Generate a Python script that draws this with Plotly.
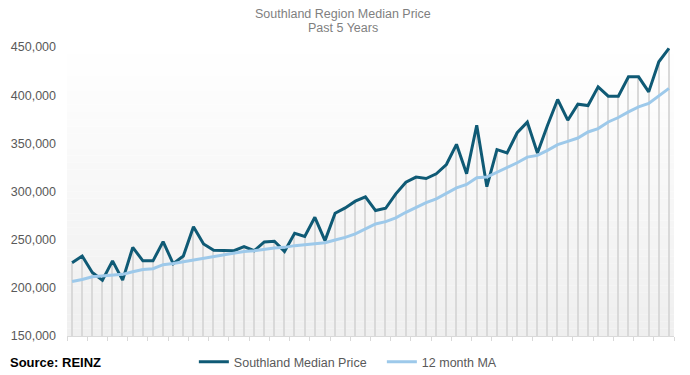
import plotly.graph_objects as go

months = [f"{m}-{y}" for y in ["19", "20", "21", "22", "23", "24"]
          for m in ["Jan", "Feb", "Mar", "Apr", "May", "Jun", "Jul", "Aug", "Sep", "Oct", "Nov", "Dec"]][6:66]

median_price = [
    226000, 233000, 216000, 208000, 228000, 208000, 242000, 228000, 228000, 248000,
    225000, 233000, 263500, 245500, 239000, 238500, 238500, 242700, 238500, 247600,
    248300, 237800, 256600, 253400, 273200, 249000, 277400, 283000, 290000, 294500,
    280200, 282600, 297600, 309700, 315000, 313500, 318400, 328000, 349000, 318400,
    368750, 305000, 343400, 340000, 361000, 372000, 340000, 368750, 395500, 374000,
    390600, 389200, 408600, 399000, 399000, 419000, 419000, 403400, 434700, 448600,
]

ma_12 = [
    206600, 208600, 211500, 212500, 213500, 214000, 216700, 219000, 219800, 224000,
    225300, 227000, 229500, 230500, 232300, 234400, 235700, 237800, 238500, 240000,
    241300, 242000, 243800, 244800, 246000, 246900, 249700, 252400, 256000, 261500,
    266300, 268750, 272600, 278400, 283700, 288500, 292400, 298200, 303800, 307300,
    314300, 315000, 320000, 324700, 329800, 335700, 337500, 342700, 348600, 352000,
    355500, 361800, 365300, 372200, 376800, 382600, 387800, 391400, 399000, 407000,
]

y_ticks = [150000, 200000, 250000, 300000, 350000, 400000, 450000]

fig = go.Figure()

# drop lines under the median series
fig.add_trace(go.Bar(
    x=months, y=median_price, width=0.14,
    marker=dict(color="#d9d9d9", line=dict(width=0)),
    showlegend=False, hoverinfo="skip",
))

fig.add_trace(go.Scatter(
    x=months, y=median_price, mode="lines", name="Southland Median Price",
    line=dict(color="#0f5a75", width=3),
))
fig.add_trace(go.Scatter(
    x=months, y=ma_12, mode="lines", name="12 month MA",
    line=dict(color="#9dc9ea", width=3),
))

# vertical gradient background of plot area
n = 40
shapes = []
for k in range(n):
    t = (k + 0.5) / n
    g = int(round(255 - (255 - 239) * (1 - t)))
    shapes.append(dict(
        type="rect", xref="paper", yref="paper",
        x0=0, x1=1, y0=k / n, y1=(k + 1) / n,
        fillcolor=f"rgb({g},{g},{g})", line=dict(width=0), layer="below",
    ))

title_font = dict(family="Liberation Sans, Arial", size=12.5, color="#7f7f7f")

fig.update_layout(
    width=682, height=367,
    margin=dict(l=59, r=16, t=39, b=39, autoexpand=False),
    paper_bgcolor="white", plot_bgcolor="rgba(0,0,0,0)",
    shapes=shapes,
    showlegend=True,
    legend=dict(
        orientation="h", x=0.209, xanchor="left",
        yref="container", y=0.0354, yanchor="middle",
        font=dict(family="Liberation Sans, Arial", size=12.5, color="#595959"),
        itemwidth=30, entrywidth=143, bgcolor="rgba(0,0,0,0)",
    ),
    bargap=0,
    annotations=[
        dict(text="Southland Region Median Price", xref="paper", yref="paper",
             x=0.455, xanchor="center", y=1.1142, yanchor="middle", showarrow=False,
             font=title_font),
        dict(text="Past 5 Years", xref="paper", yref="paper",
             x=0.455, xanchor="center", y=1.0657, yanchor="middle", showarrow=False,
             font=title_font),
        dict(text="<b>Source: REINZ</b>", xref="paper", yref="paper",
             x=-0.0972, xanchor="left", y=-0.09, yanchor="middle", showarrow=False,
             font=dict(family="Liberation Sans, Arial", size=13, color="#000000")),
    ],
)

fig.update_xaxes(
    type="category", range=[-0.5, len(months) - 0.5], automargin=False,
    showticklabels=False, showgrid=False, zeroline=False,
    showline=True, linecolor="#d9d9d9", linewidth=1,
    ticks="outside", tickson="boundaries", ticklen=4, tickcolor="#d9d9d9",
)
fig.update_yaxes(
    range=[150000, 450000], tickvals=y_ticks, tickformat=",d", automargin=False,
    showgrid=False, zeroline=False, showline=False,
    ticks="", ticklabelstandoff=10,
    tickfont=dict(family="Liberation Sans, Arial", size=12.5, color="#595959"),
)

fig.write_html("out.html")
